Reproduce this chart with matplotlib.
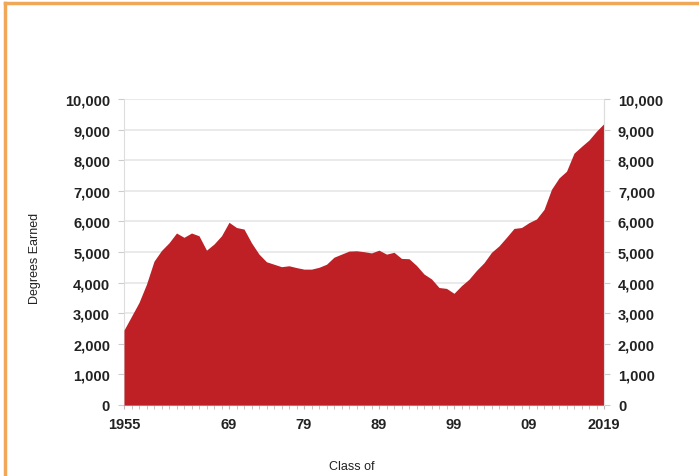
import numpy as np
import matplotlib
matplotlib.use("Agg")
import matplotlib.pyplot as plt
from matplotlib.lines import Line2D

years = list(range(1955, 2020))
degrees = [2450, 2900, 3350, 3950, 4700, 5050, 5300, 5620, 5480, 5620,
           5530, 5060, 5260, 5530, 5970, 5800, 5750, 5300, 4930, 4680,
           4600, 4520, 4550, 4490, 4440, 4440, 4500, 4600, 4830, 4930,
           5030, 5040, 5010, 4970, 5060, 4930, 4990, 4790, 4780, 4560,
           4280, 4120, 3840, 3810, 3650, 3900, 4110, 4400, 4650, 4990,
           5200, 5480, 5770, 5800, 5960, 6080, 6390, 7050, 7420, 7640,
           8230, 8450, 8660, 8950, 9200]
tick_years = [1955, 1969, 1979, 1989, 1999, 2009, 2019]
tick_labels = ['1955', '69', '79', '89', '99', '09', '2019']
yticks = list(range(0, 10001, 1000))

plt.rcParams['font.family'] = ['Liberation Sans Narrow', 'Liberation Sans', 'DejaVu Sans']

fig = plt.figure(figsize=(6.99, 4.77), dpi=100)
ax = fig.add_axes([124/699, 1-406/477, 480/699, 306/477])

red = '#BE2026'
ax.fill_between(years, degrees, 0, color=red, linewidth=0, zorder=3)
ax.set_xlim(1955, 2019)
ax.set_ylim(0, 10000)

for v in yticks[1:]:
    ax.axhline(v, color='#E6E6E6', lw=1.2, zorder=1)

ax.set_yticks(yticks)
ax.set_yticklabels([f'{v:,}' for v in yticks], fontsize=10.5, fontweight='bold', color='#222222')
ax.set_xticks(tick_years)
ax.set_xticklabels(tick_labels, fontsize=10.5, fontweight='bold', color='#222222')
ax.set_xticks(years, minor=True)
ax.tick_params(axis='x', which='both', length=3, color='#BBBBBB', pad=6)
ax.tick_params(axis='y', length=4, color='#CCCCCC', pad=6)

for s in ['top']:
    ax.spines[s].set_visible(False)
for s in ['left', 'right']:
    ax.spines[s].set_color('#DDDDDD')
ax.spines['bottom'].set_color('#BBBBBB')

ax2 = ax.twinx()
ax2.set_ylim(0, 10000)
ax2.set_yticks(yticks)
ax2.set_yticklabels([f'{v:,}' for v in yticks], fontsize=10.5, fontweight='bold', color='#222222')
ax2.tick_params(axis='y', length=4, color='#CCCCCC', pad=6)
for s in ['top', 'bottom', 'left']:
    ax2.spines[s].set_visible(False)
ax2.spines['right'].set_color('#DDDDDD')

fig.text(35/699, 1-258/477, 'Degrees Earned', rotation=90, ha='center', va='center',
         fontsize=9, color='#222222')
fig.text(352/699, 1-467/477, 'Class of', ha='center', va='center', fontsize=9, color='#222222')

orange = '#F0A858'
fig.add_artist(Line2D([5/699, 1], [1-4/477, 1-4/477], color=orange, lw=2.5, transform=fig.transFigure))
fig.add_artist(Line2D([5/699, 5/699], [0, 1-4/477], color=orange, lw=2.5, transform=fig.transFigure))

fig.savefig('out.png', dpi=100)
